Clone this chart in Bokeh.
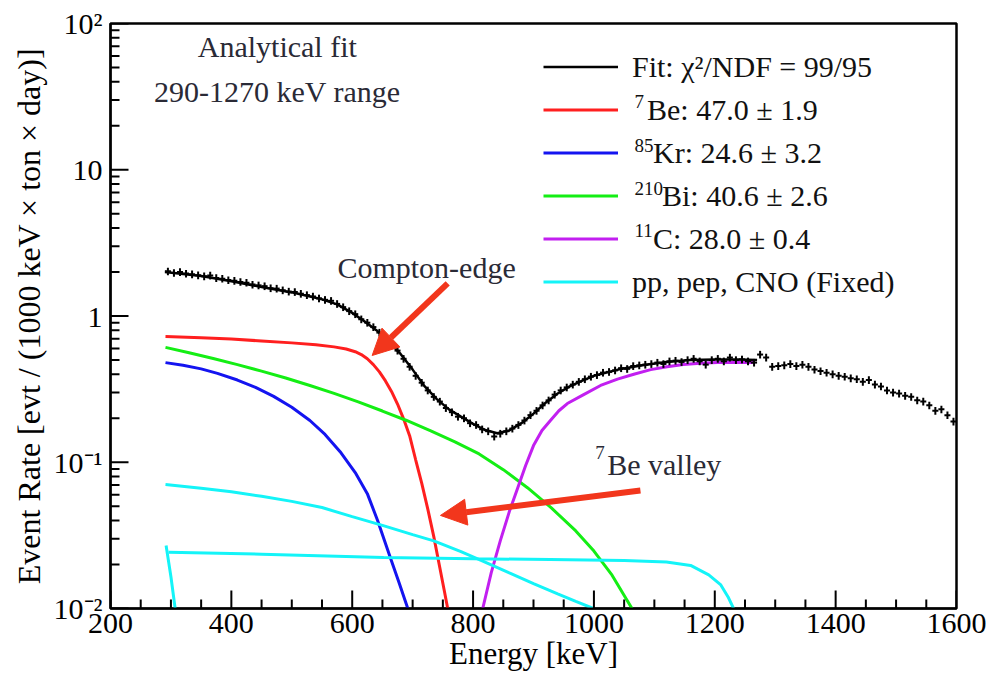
from bokeh.plotting import figure
from bokeh.models import (Legend, LegendItem, Label, Arrow, NormalHead, LogTicker,
                          FixedTicker, CustomJSTickFormatter, ColumnDataSource)
from bokeh.embed import file_html
from bokeh.resources import INLINE

# ---------------- data ----------------
BIN_HALF = 5.0          # keV, half width of each energy bin
REL_ERR = 0.06          # relative statistical error of each bin

energy = list(range(295, 1600, 10))  # bin centres, keV
rate = [
    2.02, 1.97, 2.00, 1.95, 1.93, 1.90, 1.87, 1.89, 1.82, 1.80,   # 295-385
    1.76, 1.74, 1.71, 1.69, 1.64, 1.62, 1.60, 1.55, 1.54, 1.50,   # 395-485
    1.47, 1.46, 1.42, 1.39, 1.36, 1.32, 1.29, 1.27, 1.21, 1.15,   # 495-585
    1.08, 1.03, 0.95, 0.90, 0.84, 0.77, 0.70, 0.64, 0.58, 0.51,   # 595-685
    0.45, 0.39, 0.35, 0.31, 0.28, 0.26, 0.235, 0.22, 0.205, 0.20, # 695-785
    0.185, 0.18, 0.168, 0.163, 0.150, 0.157, 0.163, 0.170, 0.180, 0.193,  # 795-885
    0.21, 0.225, 0.245, 0.265, 0.29, 0.31, 0.325, 0.34, 0.355, 0.37,     # 895-985
    0.385, 0.395, 0.41, 0.415, 0.425, 0.44, 0.435, 0.455, 0.46, 0.465,   # 995-1085
    0.47, 0.48, 0.47, 0.49, 0.495, 0.485, 0.50, 0.51, 0.49, 0.465,       # 1095-1185
    0.50, 0.51, 0.49, 0.52, 0.50, 0.505, 0.49, 0.48, 0.545, 0.52,        # 1195-1285
    0.45, 0.455, 0.46, 0.47, 0.455, 0.465, 0.45, 0.43, 0.42, 0.41,       # 1295-1385
    0.40, 0.39, 0.385, 0.375, 0.37, 0.355, 0.365, 0.34, 0.33, 0.31,      # 1395-1485
    0.30, 0.295, 0.285, 0.28, 0.265, 0.26, 0.245, 0.225, 0.23, 0.21,     # 1495-1585
    0.19,                                                                # 1595
]

fit_e = [290, 350, 400, 450, 500, 550, 575, 600, 620, 640, 660, 680, 700, 720,
         740, 760, 780, 800, 820, 840, 860, 880, 900, 920, 940, 960, 980, 1000,
         1040, 1080, 1120, 1160, 1200, 1240, 1270]
fit_v = [2.0, 1.88, 1.73, 1.58, 1.45, 1.30, 1.20, 1.05, 0.92, 0.80, 0.67, 0.55,
         0.43, 0.33, 0.27, 0.23, 0.205, 0.183, 0.166, 0.158, 0.165, 0.185, 0.215,
         0.255, 0.295, 0.33, 0.36, 0.39, 0.43, 0.46, 0.485, 0.50, 0.505, 0.505, 0.50]

be7_e = [291, 350, 400, 450, 500, 540, 570, 590, 605, 615, 625, 635, 645, 655,
         665, 675, 685, 695, 705, 715, 725, 735, 745, 752, 758]
be7_v = [0.725, 0.71, 0.695, 0.675, 0.655, 0.635, 0.615, 0.595, 0.57, 0.545,
         0.51, 0.465, 0.415, 0.36, 0.305, 0.25, 0.198, 0.152, 0.104, 0.072,
         0.048, 0.031, 0.019, 0.0135, 0.010]

kr85_e = [291, 320, 350, 377, 410, 440, 470, 500, 530, 555, 580, 605, 625, 642,
          663, 678, 692]
kr85_v = [0.48, 0.46, 0.435, 0.405, 0.365, 0.325, 0.282, 0.238, 0.193, 0.155,
          0.118, 0.085, 0.061, 0.040, 0.0223, 0.0148, 0.010]

bi210_e = [291, 330, 370, 410, 450, 490, 530, 570, 610, 650, 690, 730, 770, 810,
           850, 890, 930, 970, 1000, 1030, 1063]
bi210_v = [0.61, 0.56, 0.512, 0.465, 0.42, 0.377, 0.335, 0.296, 0.259, 0.224,
           0.193, 0.164, 0.138, 0.114, 0.089, 0.067, 0.0485, 0.0339, 0.0247,
           0.0169, 0.010]

c11_e = [816, 830, 845, 860, 874, 887, 900, 914, 928, 942, 956, 983, 1011, 1039,
         1066, 1094, 1121, 1148, 1176, 1204, 1234, 1264]
c11_v = [0.010, 0.0175, 0.029, 0.046, 0.067, 0.095, 0.13, 0.165, 0.193, 0.225,
         0.252, 0.29, 0.335, 0.37, 0.40, 0.43, 0.45, 0.466, 0.475, 0.481, 0.483, 0.481]

cno_e = [291, 350, 400, 450, 500, 550, 600, 650, 700, 735, 780, 817, 860, 900,
         940, 970, 999]
cno_v = [0.0705, 0.0665, 0.0628, 0.0585, 0.054, 0.049, 0.0425, 0.037, 0.032,
         0.029, 0.0245, 0.021, 0.0175, 0.0148, 0.0126, 0.0112, 0.010]

pep_e = [296, 450, 652, 800, 928, 1050, 1120, 1160, 1190, 1210, 1222, 1231]
pep_v = [0.0242, 0.0235, 0.0223, 0.0219, 0.0216, 0.0213, 0.0208, 0.0197, 0.017,
         0.0145, 0.012, 0.010]

pp_e = [292, 300, 307]
pp_v = [0.027, 0.0165, 0.010]

X_MIN, X_MAX, Y_MIN, Y_MAX = 200, 1600, 0.01, 100
x_ticks = [200, 400, 600, 800, 1000, 1200, 1400, 1600]
x_minor = [x for x in range(200, 1601, 50) if x % 200]
y_ticks = [0.01, 0.1, 1, 10, 100]
y_minor = [d * m for d in [0.01, 0.1, 1, 10] for m in range(2, 10)]

legend_labels = ["Fit: \u03c7\u00b2/NDF = 99/95", "\u2002Be: 47.0 \u00b1 1.9",
                 "\u2002\u2009Kr: 24.6 \u00b1 3.2", "\u2002\u2002Bi: 40.6 \u00b1 2.6",
                 "\u2002\u2009C: 28.0 \u00b1 0.4", "pp, pep, CNO (Fixed)"]
legend_isotopes = ["7", "85", "210", "11"]
# superscript anchors (energy, rate) for the four isotope entries
sup_x = [1067, 1067, 1067, 1067]
sup_y = [29.3, 14.65, 7.44, 3.84]

# ---------------- style ----------------
FONT = "Liberation Serif"
RED, BLUE, GREEN, MAG, CYAN = "#ff1f1f", "#1414f0", "#14ee14", "#c21ff0", "#14f4f8"
TXT = "#2a2a36"
FRAME_W, FRAME_H = 846, 585          # plot-frame size in px
MAJ_PX, MIN_PX = 18, 9               # inward tick lengths in px

p = figure(width=990, height=675, x_range=(X_MIN, X_MAX), y_range=(Y_MIN, Y_MAX),
           y_axis_type="log", output_backend="svg", toolbar_location=None,
           min_border_left=110, min_border_right=34, min_border_top=23,
           min_border_bottom=67)
p.grid.visible = False
p.outline_line_color = "black"
p.outline_line_width = 2.5
p.background_fill_color = "white"
p.border_fill_color = "white"

# components
r_be = p.line(be7_e, be7_v, line_color=RED, line_width=3)
r_kr = p.line(kr85_e, kr85_v, line_color=BLUE, line_width=3)
r_bi = p.line(bi210_e, bi210_v, line_color=GREEN, line_width=3)
r_c = p.line(c11_e, c11_v, line_color=MAG, line_width=3)
r_cno = p.line(cno_e, cno_v, line_color=CYAN, line_width=3)
p.line(pep_e, pep_v, line_color=CYAN, line_width=3)
p.line(pp_e, pp_v, line_color=CYAN, line_width=3)

# data with error crosses
src = ColumnDataSource(dict(
    e=energy, r=rate,
    elo=[e - BIN_HALF for e in energy], ehi=[e + BIN_HALF for e in energy],
    rlo=[v * (1 - REL_ERR) for v in rate], rhi=[v * (1 + REL_ERR) for v in rate]))
p.segment(x0="elo", x1="ehi", y0="r", y1="r", source=src, line_color="black", line_width=2)
p.segment(x0="e", x1="e", y0="rlo", y1="rhi", source=src, line_color="black", line_width=2)

r_fit = p.line(fit_e, fit_v, line_color="black", line_width=2.5)

# inward ROOT-style ticks (bottom and left only)
kev_per_px = (X_MAX - X_MIN) / FRAME_W
dec_per_px = 4.0 / FRAME_H
tick_src = []
for xs, L in [(x_ticks, MAJ_PX), (x_minor, MIN_PX)]:
    tick_src.append(ColumnDataSource(dict(
        x0=[float(v) for v in xs], x1=[float(v) for v in xs],
        y0=[Y_MIN for _ in xs], y1=[Y_MIN * 10 ** (L * dec_per_px) for _ in xs])))
for ys, L in [(y_ticks, MAJ_PX), (y_minor, MIN_PX)]:
    tick_src.append(ColumnDataSource(dict(
        x0=[float(X_MIN) for _ in ys], x1=[X_MIN + L * kev_per_px for _ in ys],
        y0=[float(v) for v in ys], y1=[float(v) for v in ys])))
for s in tick_src:
    p.segment(x0="x0", x1="x1", y0="y0", y1="y1", source=s, line_color="black", line_width=2)

# axes
p.xaxis.ticker = FixedTicker(ticks=x_ticks, minor_ticks=x_minor)
p.yaxis.ticker = LogTicker(num_minor_ticks=10)
p.yaxis.formatter = CustomJSTickFormatter(code="""
const e = Math.round(Math.log10(tick));
const m = {"-2": "10\u207b\u00b2", "-1": "10\u207b\u00b9", "0": "1", "1": "10", "2": "10\u00b2"};
return m[String(e)] ?? "";
""")
for ax in (p.xaxis[0], p.yaxis[0]):
    ax.axis_line_width = 2
    ax.axis_line_color = "black"
    ax.major_tick_line_color = None
    ax.minor_tick_line_color = None
    ax.major_tick_out = 0
    ax.minor_tick_out = 0
    ax.major_label_text_font = FONT
    ax.major_label_text_font_size = "30px"
    ax.major_label_text_color = "black"
    ax.axis_label_text_font = FONT
    ax.axis_label_text_font_style = "normal"
    ax.axis_label_text_color = "black"
p.xaxis.axis_label = "Energy [keV]"
p.yaxis.axis_label = "Event Rate [evt / (1000 keV \u00d7 ton \u00d7 day)]"
p.xaxis.axis_label_text_font_size = "31px"
p.yaxis.axis_label_text_font_size = "32px"
p.xaxis.major_label_standoff = 5
p.yaxis.major_label_standoff = 8
p.xaxis.axis_label_standoff = 0
p.yaxis.axis_label_standoff = 4

# legend
items = [LegendItem(label=lab, renderers=[r]) for lab, r in
         zip(legend_labels, [r_fit, r_be, r_kr, r_bi, r_c, r_cno])]
leg = Legend(items=items, location=(433, 305), padding=0, margin=0, spacing=0,
             glyph_width=75, glyph_height=43, label_height=43, label_standoff=14,
             label_text_font=FONT, label_text_font_size="30px", label_text_color="#111111",
             border_line_alpha=0, background_fill_alpha=0)
p.add_layout(leg)
for t, x, y in zip(legend_isotopes, sup_x, sup_y):
    p.add_layout(Label(x=x, y=y, text=t, text_font=FONT, text_font_size="19px",
                       text_color="#111111", text_align="left", text_baseline="alphabetic"))

# annotations
for txt, x, y, al in [("Analytical fit", 476, 69.6, "center"),
                      ("290-1270 keV range", 476, 34.3, "center"),
                      ("Compton-edge", 723, 2.146, "center"),
                      ("Be valley", 1022, 0.0965, "left")]:
    p.add_layout(Label(x=x, y=y, text=txt, text_font=FONT, text_font_size="30px",
                       text_color=TXT, text_align=al, text_baseline="alphabetic"))
p.add_layout(Label(x=1002, y=0.1166, text="7", text_font=FONT, text_font_size="19px",
                   text_color=TXT, text_align="left", text_baseline="alphabetic"))

for xs, ys, xe, ye in [(758, 1.67, 633, 0.537), (1077, 0.0641, 746, 0.0433)]:
    p.add_layout(Arrow(end=NormalHead(size=26, fill_color="#f2361c", line_color="#f2361c"),
                       x_start=xs, y_start=ys, x_end=xe, y_end=ye,
                       line_color="#f2361c", line_width=6))

open("out.html", "w").write(file_html(p, INLINE))
